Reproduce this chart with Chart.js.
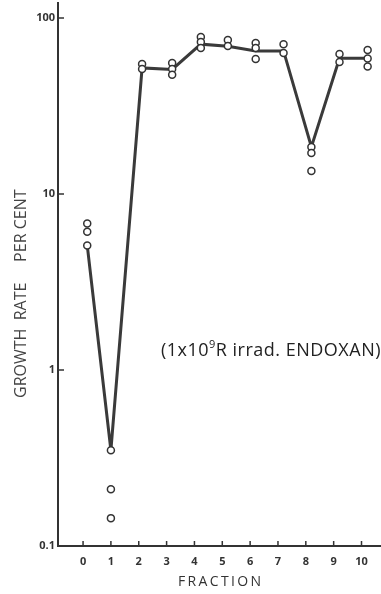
<!DOCTYPE html>
<html lang="en">
<head>
<meta charset="UTF-8">
<script src="https://cdn.jsdelivr.net/npm/chart.js"></script>
<title>Growth rate per fraction</title>
<style>
  body { margin: 0; background: #fff; }
  .box { width: 381px; height: 594px; }
</style>
</head>
<body>
<div class="box"><canvas id="growthChart"></canvas></div>
<script>
  // fraction number, as placed on the original figure
  const fractions = [0, 1, 2, 3, 4, 5, 6, 7, 8, 9, 10];
  const pointX = [0.15, 1.0, 2.12, 3.2, 4.23, 5.2, 6.2, 7.2, 8.2, 9.21, 10.22];
  // value the connecting line passes through
  const lineValues = [5.1, 0.35, 52, 51, 71, 69, 65, 65, 18.5, 59, 59];
  // individual measurements (open circles)
  const replicates = [
    [6.8, 6.1, 5.1],
    [0.35, 0.21, 0.144],
    [54.8, 51.3],
    [55.4, 51.3, 47.5],
    [78, 73, 67.5],
    [75, 69.3],
    [72, 67.5, 58.5],
    [71, 63.2],
    [18.5, 17.1, 13.5],
    [62.4, 56.2],
    [65.8, 58.9, 53]
  ];
  const yTicks = [0.1, 1, 10, 100];

  const ink = '#333';

  let linePoints = [];
  let circlePoints = [];
  for (let i = 0; i < fractions.length; i++) {
    linePoints.push({ x: pointX[i], y: lineValues[i] });
    replicates[i].forEach(v => circlePoints.push({ x: pointX[i], y: v }));
  }

  const noPadding = () => ({ left: 0, top: 0, right: 0, bottom: 0 });

  // inward tick marks, y title and the label inside the plot
  const extras = {
    id: 'extras',
    afterDraw(chart) {
      const ctx = chart.ctx;
      const xs = chart.scales.x, ys = chart.scales.y;
      const area = chart.chartArea;
      ctx.save();
      ctx.strokeStyle = ink;
      ctx.lineWidth = 1.5;
      ctx.beginPath();
      fractions.forEach(f => {
        const px = xs.getPixelForValue(f);
        ctx.moveTo(px, area.bottom);
        ctx.lineTo(px, area.bottom - 5);
      });
      [1, 10, 100].forEach(v => {
        const py = ys.getPixelForValue(v);
        ctx.moveTo(area.left, py);
        ctx.lineTo(area.left + 6, py);
      });
      ctx.stroke();

      // y axis title, reading upwards
      ctx.save();
      ctx.translate(21.5, 398);
      ctx.rotate(-Math.PI / 2);
      ctx.fillStyle = '#444';
      ctx.font = '500 16px "Open Sans"';
      ctx.textAlign = 'left';
      ctx.textBaseline = 'middle';
      ctx.fillText('GROWTH  RATE     PER CENT', 0, 0);
      ctx.restore();

      // (1x10^9 R irrad. ENDOXAN)
      ctx.fillStyle = '#222';
      ctx.textBaseline = 'alphabetic';
      ctx.letterSpacing = '0.5px';
      const big = '500 18px "Open Sans"';
      const small = '500 11px "Open Sans"';
      const a = '(1x10', sup = '9', b = 'R irrad. ENDOXAN)';
      ctx.font = big;
      const wa = ctx.measureText(a).width, wb = ctx.measureText(b).width;
      ctx.font = small;
      const ws = ctx.measureText(sup).width;
      let x = area.right - (wa + ws + wb);
      const base = ys.getPixelForValue(1.2);
      ctx.font = big;
      ctx.fillText(a, x, base);
      ctx.font = small;
      ctx.fillText(sup, x + wa, base - 8);
      ctx.font = big;
      ctx.fillText(b, x + wa + ws, base);
      ctx.restore();
    }
  };

  new Chart(document.getElementById('growthChart'), {
    type: 'scatter',
    data: {
      datasets: [
        {
          label: 'Measurements',
          data: circlePoints,
          pointRadius: 3.5,
          pointBorderWidth: 1.5,
          pointBorderColor: ink,
          pointBackgroundColor: '#fff',
          order: 1
        },
        {
          type: 'line',
          label: 'Growth rate',
          data: linePoints,
          borderColor: '#3a3a3a',
          borderWidth: 3,
          pointRadius: 0,
          fill: false,
          tension: 0,
          order: 2
        }
      ]
    },
    options: {
      responsive: true,
      maintainAspectRatio: false,
      animation: false,
      layout: { autoPadding: false, padding: { top: 3, right: 0, left: 0, bottom: 0 } },
      plugins: { legend: { display: false }, tooltip: { enabled: false } },
      scales: {
        x: {
          type: 'linear',
          min: -0.9,
          max: 10.7,
          afterBuildTicks: s => { s.ticks = fractions.map(f => ({ value: f })); },
          afterFit: s => { s.height = 48; s.paddingLeft = 0; s.paddingRight = 0; s.getPadding = noPadding; },
          grid: { drawOnChartArea: false, drawTicks: false },
          border: { display: true, color: ink, width: 2 },
          ticks: {
            color: ink,
            padding: 9,
            maxRotation: 0,
            font: { family: 'Open Sans', size: 11, weight: 'bold' }
          },
          title: {
            display: true,
            text: 'F\u2009R\u2009A\u2009C\u2009T\u2009I\u2009O\u2009N',
            color: ink,
            padding: { top: 0, bottom: 4 },
            font: { family: 'Open Sans', size: 14, weight: '500' }
          }
        },
        y: {
          type: 'logarithmic',
          min: 0.1,
          max: 121.6,
          afterBuildTicks: s => { s.ticks = yTicks.map(v => ({ value: v })); },
          afterFit: s => { s.width = 58; s.paddingTop = 0; s.paddingBottom = 0; s.getPadding = noPadding; },
          grid: { drawOnChartArea: false, drawTicks: false },
          border: { display: true, color: ink, width: 2 },
          ticks: {
            color: ink,
            padding: 3,
            font: { family: 'Open Sans', size: 11, weight: 'bold' },
            callback: v => String(v)
          }
        }
      }
    },
    plugins: [extras]
  });
</script>
</body>
</html>
